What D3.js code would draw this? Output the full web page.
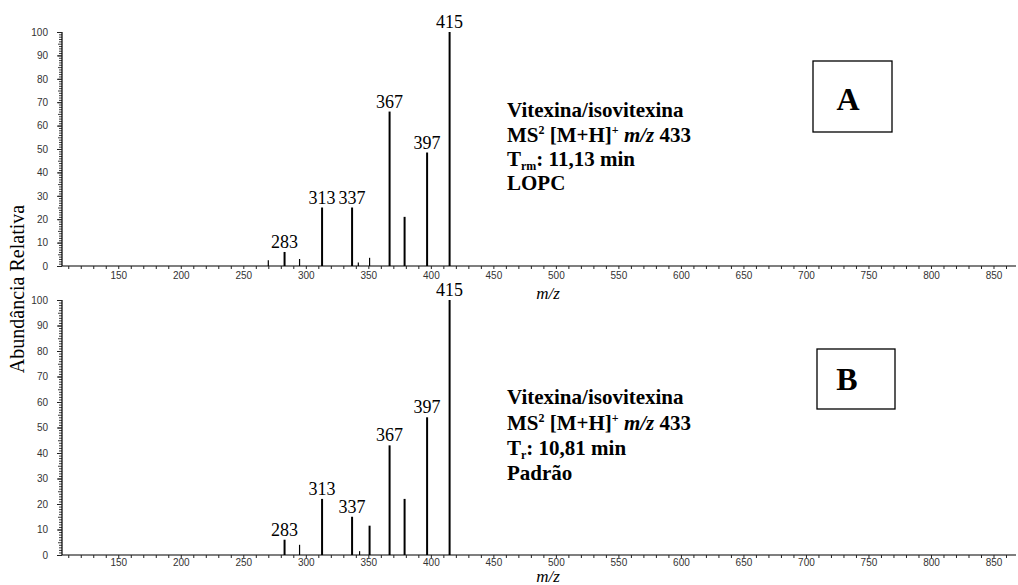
<!DOCTYPE html>
<html>
<head>
<meta charset="utf-8">
<script src="https://cdn.jsdelivr.net/npm/d3@7"></script>
<style>
  html, body { margin: 0; padding: 0; background: #fff; }
  svg { display: block; }
</style>
</head>
<body>
<svg id="chart" width="1018" height="585"></svg>
<script>
// ---------- data ----------
const mzA = [270, 283, 295, 313, 337, 342, 351, 367, 379, 397, 415];
const intA = [2.5, 6, 3, 25, 25, 1.5, 3.5, 66, 21, 48.5, 100];
const labelsA = [283, 313, 337, 367, 397, 415];

const mzB = [283, 295, 313, 337, 343, 351, 367, 379, 397, 415];
const intB = [6, 4, 22, 15, 1.5, 11.5, 43, 22, 54, 100];
const labelsB = [283, 313, 337, 367, 397, 415];

const xTickLabels = [150, 200, 250, 300, 350, 400, 450, 500, 550, 600, 650, 700, 750, 800, 850];
const yTickLabels = [0, 10, 20, 30, 40, 50, 60, 70, 80, 90, 100];

const infoA = { name: "Vitexina/isovitexina", precursor: "433", trSub: "rm", tr: ": 11,13 min", sample: "LOPC", letter: "A" };
const infoB = { name: "Vitexina/isovitexina", precursor: "433", trSub: "r", tr: ": 10,81 min", sample: "Padrão", letter: "B" };

// ---------- drawing ----------
const svg = d3.select("#chart");
const x = d3.scaleLinear().domain([105, 868]).range([62, 1016]);

function panel(mz, inten, labels, info, geo) {
  const y = d3.scaleLinear().domain([0, 100]).range([geo.base, geo.top]);
  const g = svg.append("g");

  // x axis: minor ticks every 10, labels every 50
  const minor = d3.range(110, 869, 10);
  const xa = g.append("g").attr("transform", `translate(0,${geo.base})`)
    .call(d3.axisBottom(x).tickValues(minor).tickSize(3).tickPadding(geo.pad)
      .tickFormat(d => xTickLabels.includes(d) ? d : ""));
  xa.select(".domain").attr("stroke", "#000").attr("stroke-width", 1.2).attr("d", `M${x(105)},0H${x(868)}`);
  xa.selectAll("line").attr("stroke", "#222");
  xa.selectAll("text").attr("font-family", "Liberation Sans, Arial, sans-serif").attr("font-size", 10).attr("fill", "#333");

  // y axis minor ticks (every 1)
  const ym = g.append("g").attr("transform", `translate(62,0)`)
    .call(d3.axisLeft(y).tickValues(d3.range(0, 101, 1)).tickSize(3).tickFormat(""));
  ym.select(".domain").remove();
  ym.selectAll("line").attr("stroke", "#222").attr("stroke-width", 0.9)
    .attr("x2", d => d % 5 === 0 ? -4 : -3);
  // y axis major ticks with labels
  const ya = g.append("g").attr("transform", `translate(62,0)`)
    .call(d3.axisLeft(y).tickValues(yTickLabels).tickSize(5).tickPadding(9));
  ya.select(".domain").attr("stroke", "#000").attr("stroke-width", 1.2).attr("d", `M0,${geo.base}V${geo.top}`);
  ya.selectAll("line").attr("stroke", "#222");
  ya.selectAll("text").attr("font-family", "Liberation Sans, Arial, sans-serif").attr("font-size", 10).attr("fill", "#333");

  // peaks
  g.selectAll("line.peak").data(mz).enter().append("line").attr("class", "peak")
    .attr("x1", d => x(d)).attr("x2", d => x(d))
    .attr("y1", y(0)).attr("y2", (d, i) => y(inten[i]))
    .attr("stroke", "#000").attr("stroke-width", (d, i) => inten[i] > 5 ? 2 : 1.2);

  // peak labels
  g.selectAll("text.plab").data(labels).enter().append("text").attr("class", "plab")
    .attr("x", d => x(d)).attr("y", d => y(inten[mz.indexOf(d)]) - 4)
    .attr("text-anchor", "middle")
    .attr("font-family", "Liberation Serif, Times New Roman, serif").attr("font-size", 18)
    .attr("fill", "#000").text(d => d);

  // x title
  g.append("text").attr("x", 548).attr("y", geo.xTitle).attr("text-anchor", "middle")
    .attr("font-family", "Liberation Serif, Times New Roman, serif").attr("font-size", 17)
    .attr("font-style", "italic").text("m/z");

  // info text
  const tx = 507;
  const tf = "Liberation Serif, Times New Roman, serif";
  const t = g.append("g").attr("font-family", tf).attr("font-weight", "bold").attr("font-size", 21).attr("fill", "#000");
  t.append("text").attr("x", tx).attr("y", geo.lines[0]).text(info.name);
  const l2 = t.append("text").attr("x", tx).attr("y", geo.lines[1]);
  l2.append("tspan").text("MS");
  l2.append("tspan").attr("font-size", 12).attr("dy", -8).text("2");
  l2.append("tspan").attr("dy", 8).text(" [M+H]");
  l2.append("tspan").attr("font-size", 12).attr("dy", -8).text("+");
  l2.append("tspan").attr("font-style", "italic").attr("dy", 8).text(" m/z");
  l2.append("tspan").text(" " + info.precursor);
  const l3 = t.append("text").attr("x", tx).attr("y", geo.lines[2]);
  l3.append("tspan").text("T");
  l3.append("tspan").attr("font-size", 12).attr("dy", 4).text(info.trSub);
  l3.append("tspan").attr("dy", -4).text(info.tr);
  t.append("text").attr("x", tx).attr("y", geo.lines[3]).text(info.sample);

  // letter box
  g.append("rect").attr("x", geo.box[0]).attr("y", geo.box[1]).attr("width", geo.box[2]).attr("height", geo.box[3])
    .attr("fill", "none").attr("stroke", "#000").attr("stroke-width", 1.3);
  g.append("text").attr("x", geo.letter[0]).attr("y", geo.letter[1]).attr("text-anchor", "middle")
    .attr("font-family", tf).attr("font-weight", "bold").attr("font-size", 32).text(info.letter);
}

panel(mzA, intA, labelsA, infoA, {
  base: 266, top: 32, xTitle: 299, pad: 3, lines: [117, 142, 166, 190],
  box: [813, 61, 79, 71], letter: [848, 110]
});
panel(mzB, intB, labelsB, infoB, {
  base: 555, top: 300, xTitle: 582, pad: 1, lines: [404, 430, 455, 480],
  box: [817, 349, 78, 60], letter: [847, 390]
});

// y title
svg.append("text").attr("transform", "translate(24,289) rotate(-90)").attr("text-anchor", "middle")
  .attr("font-family", "Liberation Serif, Times New Roman, serif").attr("font-size", 20)
  .text("Abundância Relativa");
</script>
</body>
</html>
